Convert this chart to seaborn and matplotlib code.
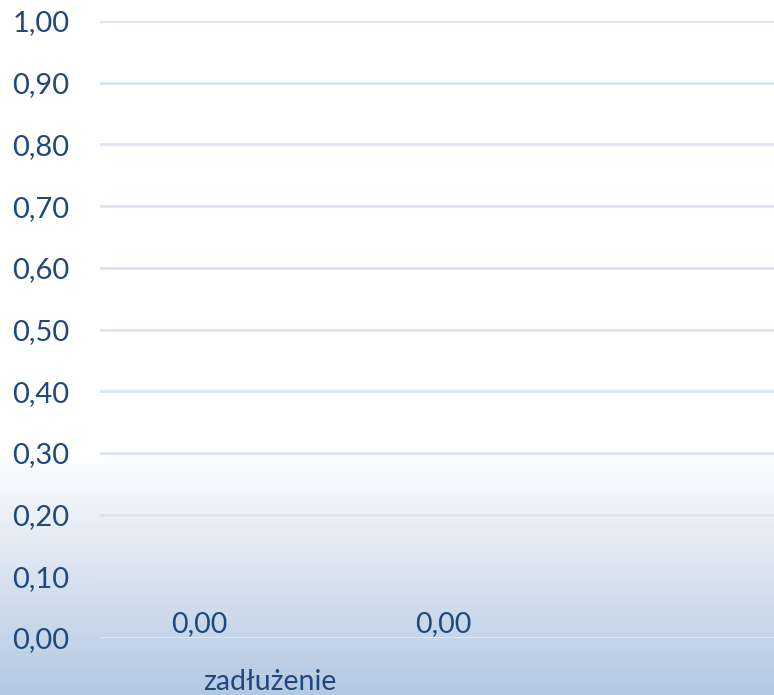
import numpy as np
import pandas as pd
import matplotlib
matplotlib.use("Agg")
import matplotlib.pyplot as plt
import matplotlib.transforms as mtransforms
from matplotlib.colors import LinearSegmentedColormap
import seaborn as sns

# data
categories = ["zadłużenie"]
series = ["seria 1", "seria 2"]
values = [0.00, 0.00]
y_ticks = [0.0, 0.1, 0.2, 0.3, 0.4, 0.5, 0.6, 0.7, 0.8, 0.9, 1.0]

df = pd.DataFrame({"kategoria": categories * len(series), "seria": series, "wartosc": values})

sns.set_theme(style="white")
plt.rcParams["font.family"] = ["Lato", "DejaVu Sans"]

text_color = "#1f497d"
grid_color = "#dbe5f1"

fig = plt.figure(figsize=(7.74, 6.95), dpi=100)

# gradient background over whole figure
bg = fig.add_axes([0, 0, 1, 1], zorder=-10)
h = 695
grad = np.zeros((h, 1))
start = 450
for i in range(h):
    if i > start:
        grad[i, 0] = (i - start) / (h - start)
cmap = LinearSegmentedColormap.from_list("bg", ["#ffffff", "#b4c8e2"])
bg.imshow(grad, aspect="auto", cmap=cmap, vmin=0, vmax=1, extent=[0, 1, 0, 1], origin="upper")
bg.axis("off")

# plot area
ax = fig.add_axes([100 / 774, (695 - 638) / 695, 674 / 774, (638 - 21) / 695])
ax.set_facecolor("none")
ax.patch.set_alpha(0)

sns.barplot(data=df, x="kategoria", y="wartosc", hue="seria", ax=ax,
            palette=["#4f81bd", "#c0504d"], legend=False, width=0.8)

for c in ax.containers:
    ax.bar_label(c, labels=[f"{v:.2f}".replace(".", ",") for v in c.datavalues],
                 padding=1, fontsize=20.5, color=text_color)

ax.set_ylim(0, 1.0)
ax.set_xlim(-0.363, 0.742)
ax.set_yticks(y_ticks)
ax.set_yticklabels([f"{t:.2f}".replace(".", ",") for t in y_ticks], fontsize=21, color=text_color)
ax.yaxis.grid(True, color=grid_color, linewidth=2)
ax.set_axisbelow(True)
ax.tick_params(axis="y", length=0, pad=22)
ax.tick_params(axis="x", length=0, pad=22, labelsize=20.5, labelcolor=text_color)
for lbl in ax.get_xticklabels():
    lbl.set_transform(lbl.get_transform() + mtransforms.ScaledTranslation(-0.52, 0, fig.dpi_scale_trans))
for s in ax.spines.values():
    s.set_visible(False)
ax.set_xlabel("")
ax.set_ylabel("")

fig.savefig("out.png", dpi=100)
